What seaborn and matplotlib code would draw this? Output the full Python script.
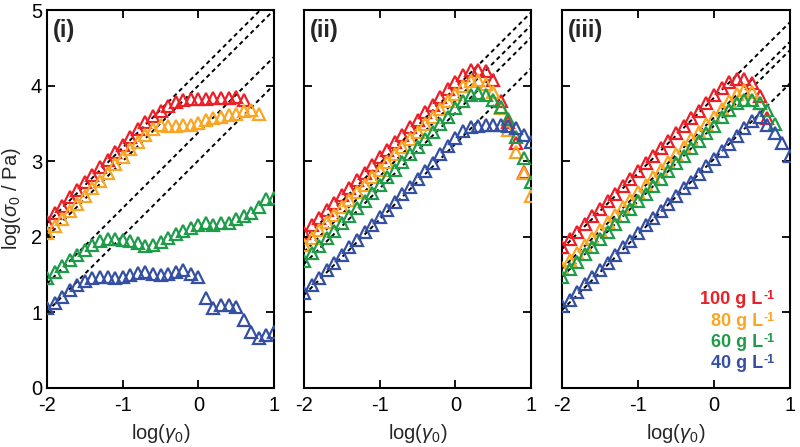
import numpy as np
import pandas as pd
import seaborn as sns
import matplotlib.pyplot as plt

# log(strain amplitude) grid, 10 points per decade
LOG_STRAIN = [-2.0, -1.9, -1.8, -1.7, -1.6, -1.5, -1.4, -1.3, -1.2, -1.1,
              -1.0, -0.9, -0.8, -0.7, -0.6, -0.5, -0.4, -0.3, -0.2, -0.1,
              0.0, 0.1, 0.2, 0.3, 0.4, 0.5, 0.6, 0.7, 0.8, 0.9, 1.0]

CONC_LABELS = ["100 g L", "80 g L", "60 g L", "40 g L"]
COLORS = ["#EC1F27", "#F8A623", "#1F9C49", "#3550A3"]
PANEL_LABELS = ["(i)", "(ii)", "(iii)"]

# panel (i)
P1_100 = [2.20, 2.31, 2.41, 2.52, 2.62, 2.72, 2.82, 2.92, 3.02, 3.12,
          3.22, 3.32, 3.42, 3.52, 3.60, 3.67, 3.73, 3.78, 3.81, 3.82,
          3.82, 3.82, 3.83, 3.83, 3.84, 3.85, 3.81]
P1_80 = [2.05, 2.14, 2.24, 2.34, 2.44, 2.54, 2.64, 2.74, 2.85, 2.96,
         3.06, 3.16, 3.26, 3.35, 3.43, 3.48, 3.47, 3.47, 3.48, 3.48,
         3.50, 3.54, 3.57, 3.59, 3.61, 3.63, 3.66, 3.68, 3.63]
P1_60 = [1.45, 1.54, 1.61, 1.69, 1.76, 1.83, 1.89, 1.94, 1.97, 1.97,
         1.96, 1.94, 1.92, 1.88, 1.89, 1.93, 1.98, 2.04, 2.08, 2.12,
         2.15, 2.18, 2.15, 2.18, 2.18, 2.23, 2.27, 2.32, 2.40, 2.50, 2.51]
P1_40 = [1.06, 1.13, 1.21, 1.29, 1.36, 1.42, 1.46, 1.47, 1.47, 1.46,
         1.47, 1.50, 1.52, 1.53, 1.51, 1.49, 1.51, 1.54, 1.56, 1.51,
         1.47, 1.19, 1.06, 1.10, 1.10, 1.07, 0.90, 0.74, 0.66, 0.70, 0.74]

# panel (ii)
P2_100 = [2.05, 2.15, 2.25, 2.35, 2.45, 2.55, 2.65, 2.75, 2.85, 2.95,
          3.05, 3.15, 3.25, 3.35, 3.45, 3.55, 3.65, 3.75, 3.85, 3.95,
          4.05, 4.14, 4.20, 4.21, 4.19, 4.07, 3.80, 3.52, 3.24, 2.86]
P2_80 = [1.89, 1.99, 2.09, 2.19, 2.29, 2.39, 2.49, 2.59, 2.69, 2.79,
         2.89, 2.99, 3.09, 3.19, 3.29, 3.39, 3.49, 3.59, 3.69, 3.79,
         3.89, 3.99, 4.06, 4.08, 4.02, 3.92, 3.70, 3.41, 3.12, 2.84, 2.54]
P2_60 = [1.68, 1.78, 1.88, 1.98, 2.08, 2.18, 2.28, 2.38, 2.48, 2.58,
         2.69, 2.79, 2.89, 2.99, 3.09, 3.19, 3.29, 3.39, 3.49, 3.59,
         3.70, 3.80, 3.87, 3.90, 3.88, 3.81, 3.72, 3.56, 3.32, 3.04, 2.73]
P2_40 = [1.26, 1.36, 1.46, 1.56, 1.66, 1.76, 1.86, 1.96, 2.06, 2.16,
         2.26, 2.36, 2.46, 2.56, 2.66, 2.76, 2.87, 2.98, 3.09, 3.20,
         3.31, 3.40, 3.45, 3.47, 3.48, 3.48, 3.48, 3.47, 3.44, 3.35, 3.26]

# panel (iii)
P3_100 = [1.87, 1.97, 2.07, 2.17, 2.27, 2.37, 2.47, 2.57, 2.67, 2.77,
          2.87, 2.97, 3.07, 3.17, 3.27, 3.37, 3.47, 3.57, 3.67, 3.77,
          3.87, 3.97, 4.05, 4.09, 4.09, 4.04, 3.86, 3.57]
P3_80 = [1.59, 1.69, 1.79, 1.89, 1.99, 2.09, 2.19, 2.29, 2.39, 2.49,
         2.59, 2.69, 2.79, 2.89, 2.99, 3.09, 3.19, 3.29, 3.39, 3.49,
         3.59, 3.69, 3.80, 3.89, 3.94, 3.92, 3.77]
P3_60 = [1.47, 1.57, 1.67, 1.77, 1.87, 1.97, 2.07, 2.17, 2.27, 2.37,
         2.47, 2.57, 2.67, 2.77, 2.87, 2.97, 3.07, 3.17, 3.27, 3.37,
         3.47, 3.58, 3.68, 3.77, 3.81, 3.81, 3.77, 3.68, 3.49]
P3_40 = [1.08, 1.17, 1.27, 1.37, 1.47, 1.56, 1.66, 1.76, 1.86, 1.95,
         2.05, 2.15, 2.25, 2.34, 2.44, 2.54, 2.64, 2.73, 2.83, 2.93,
         3.03, 3.13, 3.23, 3.33, 3.44, 3.53, 3.58, 3.48, 3.37, 3.24, 3.07]

PANELS = [
    [P1_100, P1_80, P1_60, P1_40],
    [P2_100, P2_80, P2_60, P2_40],
    [P3_100, P3_80, P3_60, P3_40],
]

# intercepts of the slope-1 guide lines (log sigma = log gamma + c)
GUIDE_OFFSETS = [
    [4.18, 4.00, 3.38, 3.01],
    [3.97, 3.80, 3.64, 3.23],
    [3.84, 3.58, 3.47, 3.03],
]

sns.set_theme(style="ticks")
plt.rcParams["font.family"] = ["Liberation Sans", "DejaVu Sans"]
plt.rcParams["mathtext.fontset"] = "custom"
plt.rcParams["mathtext.rm"] = "Liberation Sans"
plt.rcParams["mathtext.it"] = "Liberation Sans:italic"
plt.rcParams["mathtext.bf"] = "Liberation Sans:bold"
plt.rcParams["axes.unicode_minus"] = False

fig = plt.figure(figsize=(8, 4.47), dpi=100)
lefts = [0.05875, 0.38, 0.7025]
widths = [0.28375, 0.284, 0.285]

for p, series in enumerate(PANELS):
    ax = fig.add_axes([lefts[p], 0.132, widths[p], 0.8456])

    for c in GUIDE_OFFSETS[p]:
        ax.axline((0, c), slope=1, color="black", lw=1.4,
                  linestyle=(0, (2.2, 1.8)), zorder=1)

    for vals, col in zip(series, COLORS):
        df = pd.DataFrame({"x": LOG_STRAIN[:len(vals)], "y": vals})
        sns.lineplot(data=df, x="x", y="y", ax=ax, errorbar=None,
                     marker="^", linestyle="none", color=col,
                     markerfacecolor="none", markeredgecolor=col,
                     markersize=9, markeredgewidth=1.6, zorder=3)

    ax.set_xlim(-2, 1)
    ax.set_ylim(0, 5)
    ax.set_xticks([-2, -1, 0, 1])
    ax.set_yticks([0, 1, 2, 3, 4, 5])
    ax.tick_params(direction="in", top=True, right=True, length=6,
                   width=1.3, labelsize=14.5, color="black", labelcolor="black")
    ax.tick_params(axis="x", pad=6)
    for s in ax.spines.values():
        s.set_linewidth(1.5)
        s.set_color("black")
    ax.set_xlabel(r"log($\gamma_0$)", fontsize=14.5, labelpad=5)
    if p == 0:
        ax.set_ylabel(r"log($\sigma_0$ / Pa)", fontsize=14.5, labelpad=6)
    else:
        ax.set_ylabel("")
        ax.set_yticklabels([])

    ax.text(0.025, 0.975, PANEL_LABELS[p], transform=ax.transAxes,
            fontsize=17, fontweight="bold", ha="left", va="top")

# concentration labels in panel (iii)
ax = fig.axes[-1]
for i, (lab, col) in enumerate(zip(CONC_LABELS, COLORS)):
    t = ax.text(0.88, 0.221 - i * 0.0563, lab, transform=ax.transAxes,
                color=col, fontsize=13, fontweight="bold",
                ha="right", va="baseline")
    ax.annotate("-1", xy=(1, 0), xycoords=t, xytext=(0.5, 6.5),
                textcoords="offset points", color=col, fontsize=9,
                fontweight="bold", ha="left", va="baseline")

fig.savefig("out.png", dpi=100)
